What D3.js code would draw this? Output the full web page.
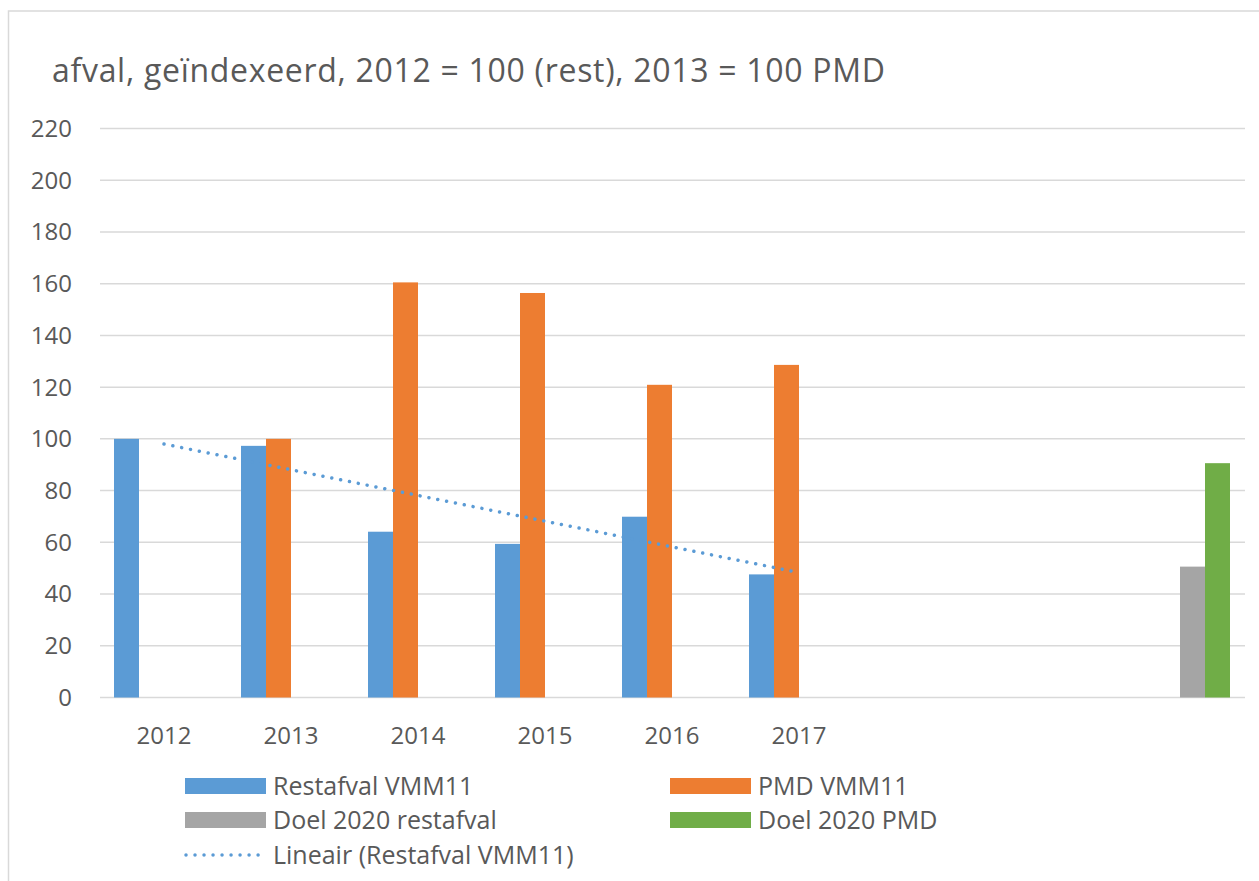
<!DOCTYPE html>
<html>
<head>
<meta charset="utf-8">
<script src="https://cdn.jsdelivr.net/npm/d3@7"></script>
<style>
  body { margin: 0; background: #fff; }
  text { font-family: "Open Sans", "Liberation Sans", Arial, sans-serif; fill: #595959; }
</style>
</head>
<body>
<script>
// categories (last three have no label, goal bars sit in the last one)
const categories = ["2012", "2013", "2014", "2015", "2016", "2017", "2018", "2019", "2020"];
const tickLabels = ["2012", "2013", "2014", "2015", "2016", "2017", "", "", ""];
const seriesNames = ["Restafval VMM11", "PMD VMM11", "Doel 2020 restafval", "Doel 2020 PMD"];
const restafval = [100, 97.3, 64.1, 59.4, 69.9, 47.6, null, null, null];
const pmd = [null, 100, 160.5, 156.4, 120.9, 128.6, null, null, null];
const doelRest = [null, null, null, null, null, null, null, null, 50.6];
const doelPmd = [null, null, null, null, null, null, null, null, 90.6];
// linear trend of restafval, read at start and end
const trendCats = ["2012", "2017"];
const trendValues = [98, 48.3];
const yTicks = [0, 20, 40, 60, 80, 100, 120, 140, 160, 180, 200, 220];
const colors = ["#5B9BD5", "#ED7D31", "#A5A5A5", "#70AD47"];

const width = 1259, height = 881;
const svg = d3.select("body").append("svg")
    .attr("width", width)
    .attr("height", height);

// chart area border
svg.append("rect")
    .attr("x", 8.5).attr("y", 11)
    .attr("width", width + 20).attr("height", height + 20)
    .attr("fill", "none")
    .attr("stroke", "#d9d9d9")
    .attr("stroke-width", 1.5);

svg.append("text")
    .attr("x", 52).attr("y", 82)
    .attr("font-size", 32)
    .attr("textLength", 833)
    .attr("lengthAdjust", "spacing")
    .text("afval, geïndexeerd, 2012 = 100 (rest), 2013 = 100 PMD");

const x0 = d3.scaleBand()
    .domain(categories)
    .range([100.5, 1243.5])
    .paddingInner(27 / 127)
    .paddingOuter(13.5 / 127);

const x1 = d3.scaleBand()
    .domain(d3.range(4))
    .range([0, x0.bandwidth()]);

const yScale = d3.scaleLinear()
    .domain([0, 220])
    .range([697.5, 128.5]);

// gridlines
svg.append("g")
    .selectAll("line")
    .data(yTicks)
    .enter()
    .append("line")
    .attr("x1", 100).attr("x2", 1245)
    .attr("y1", d => yScale(d)).attr("y2", d => yScale(d))
    .attr("stroke", "#d9d9d9")
    .attr("stroke-width", 1.5);

// y tick labels
svg.append("g")
    .selectAll("text")
    .data(yTicks)
    .enter()
    .append("text")
    .attr("x", 72)
    .attr("y", d => yScale(d))
    .attr("dy", "0.35em")
    .attr("text-anchor", "end")
    .attr("font-size", 24)
    .text(d => d);

// x tick labels
svg.append("g")
    .selectAll("text")
    .data(categories)
    .enter()
    .append("text")
    .attr("x", d => x0(d) + x0.bandwidth() / 2)
    .attr("y", 744)
    .attr("text-anchor", "middle")
    .attr("font-size", 24)
    .text((d, i) => tickLabels[i]);

// bars
const allSeries = [restafval, pmd, doelRest, doelPmd];
allSeries.forEach((vals, s) => {
    const pts = categories.map((c, i) => ({ c, v: vals[i] })).filter(d => d.v != null);
    svg.append("g")
        .selectAll("rect")
        .data(pts)
        .enter()
        .append("rect")
        .attr("x", d => x0(d.c) + x1(s))
        .attr("y", d => yScale(d.v))
        .attr("width", x1.bandwidth())
        .attr("height", d => yScale(0) - yScale(d.v))
        .attr("fill", colors[s]);
});

// trendline
const trend = trendCats.map((c, i) => ({ c, v: trendValues[i] }));
svg.append("path")
    .datum(trend)
    .attr("d", d3.line()
        .x(d => x0(d.c) + x0.bandwidth() / 2)
        .y(d => yScale(d.v)))
    .attr("fill", "none")
    .attr("stroke", colors[0])
    .attr("stroke-width", 3.5)
    .attr("stroke-linecap", "round")
    .attr("stroke-dasharray", "0.01 9");

// legend
const legendItems = [
    { name: seriesNames[0], color: colors[0], x: 185, y: 786 },
    { name: seriesNames[1], color: colors[1], x: 670, y: 786 },
    { name: seriesNames[2], color: colors[2], x: 185, y: 820 },
    { name: seriesNames[3], color: colors[3], x: 670, y: 820 }
];
const leg = svg.append("g");
legendItems.forEach(d => {
    leg.append("rect")
        .attr("x", d.x).attr("y", d.y - 8)
        .attr("width", 81).attr("height", 16)
        .attr("fill", d.color);
    leg.append("text")
        .attr("x", d.x + 88).attr("y", d.y)
        .attr("dy", "0.35em")
        .attr("font-size", 25)
        .text(d.name);
});
leg.append("line")
    .attr("x1", 186).attr("x2", 259)
    .attr("y1", 855).attr("y2", 855)
    .attr("stroke", colors[0])
    .attr("stroke-width", 3.5)
    .attr("stroke-linecap", "round")
    .attr("stroke-dasharray", "0.01 9");
leg.append("text")
    .attr("x", 273).attr("y", 855)
    .attr("dy", "0.35em")
    .attr("font-size", 25)
    .text("Lineair (Restafval VMM11)");
</script>
</body>
</html>
